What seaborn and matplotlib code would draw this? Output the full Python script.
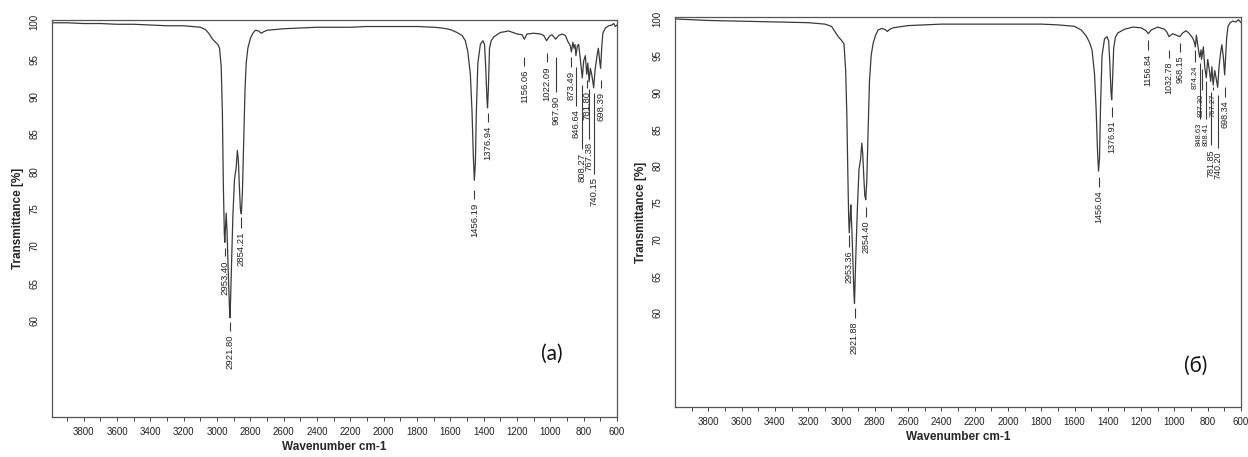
import matplotlib
matplotlib.use("Agg")
import matplotlib.pyplot as plt
import numpy as np
import pandas as pd
import seaborn as sns

# ---------------- data ----------------
# Spectrum (a)
wn_a = [3990, 3900, 3800, 3700, 3600, 3500, 3400, 3300, 3200, 3150, 3100, 3070, 3050, 3030,
        3010, 2995, 2985, 2975, 2968, 2962, 2956, 2953.4, 2949, 2945, 2940, 2932, 2925,
        2921.8, 2915, 2905, 2895, 2885, 2878, 2872, 2866, 2860, 2854.2, 2848, 2840, 2832,
        2825, 2815, 2800, 2785, 2770, 2750, 2735, 2720, 2700, 2650, 2600, 2500, 2400, 2300,
        2200, 2100, 2000, 1900, 1800, 1700, 1650, 1600, 1560, 1530, 1510, 1495, 1480, 1470,
        1462, 1456.2, 1450, 1444, 1435, 1420, 1405, 1395, 1388, 1380, 1376.9, 1372, 1365,
        1355, 1340, 1300, 1250, 1200, 1170, 1156, 1140, 1100, 1060, 1040, 1022, 1005, 990,
        968, 950, 930, 910, 895, 880, 873.5, 865, 858, 852, 846.6, 838, 830, 820, 808.3,
        800, 790, 781.8, 775, 767.4, 760, 752, 745, 740.2, 732, 720, 712, 705, 698.4, 692,
        685, 670, 650, 630, 620, 610, 600]
t_a = [99.9, 99.9, 99.8, 99.8, 99.7, 99.7, 99.6, 99.5, 99.5, 99.4, 99.3, 99.0, 98.5, 97.8,
       97.3, 97.0, 96.5, 94.0, 88.0, 78.0, 71.5, 70.5, 72.5, 74.4, 72.0, 66.0, 61.5,
       60.4, 66.0, 74.0, 79.0, 80.5, 82.8, 81.5, 78.0, 75.0, 74.3, 77.0, 84.0, 91.0,
       94.5, 96.5, 97.8, 98.5, 98.9, 98.8, 98.5, 98.7, 98.9, 99.0, 99.1, 99.2, 99.3, 99.3,
       99.3, 99.4, 99.4, 99.4, 99.4, 99.3, 99.2, 99.0, 98.6, 98.2, 97.5, 96.0, 93.0, 88.0,
       82.0, 78.8, 81.0, 88.0, 94.5, 97.0, 97.5, 97.0, 94.0, 89.5, 88.5, 91.0, 96.5,
       97.5, 98.0, 98.6, 98.8, 98.4, 98.3, 97.7, 98.4, 98.5, 98.4, 98.2, 97.5, 98.1, 98.3,
       97.7, 98.2, 98.4, 98.2, 97.4, 96.8, 96.0, 97.3, 96.5, 97.0, 95.5, 96.8, 97.0, 95.0, 92.5,
       94.8, 95.5, 93.0, 94.5, 92.0, 93.8, 93.0, 92.0, 91.2, 93.5, 95.5, 96.5, 95.0, 93.8, 96.5,
       98.5, 99.2, 99.5, 99.6, 99.8, 99.4, 99.6]

# Spectrum (б)
wn_b = [4000, 3900, 3800, 3600, 3400, 3200, 3100, 3060, 3040, 3020, 3000, 2985, 2975, 2968,
        2962, 2957, 2953.4, 2948, 2944, 2938, 2930, 2925, 2921.9, 2915, 2905, 2895, 2885,
        2878, 2872, 2866, 2860, 2854.4, 2848, 2840, 2832, 2822, 2810, 2795, 2780, 2760,
        2740, 2725, 2710, 2690, 2600, 2500, 2400, 2200, 2000, 1800, 1700, 1600, 1560, 1530,
        1510, 1495, 1480, 1470, 1462, 1456.0, 1450, 1444, 1435, 1420, 1405, 1395, 1388,
        1381, 1376.9, 1372, 1365, 1355, 1340, 1300, 1250, 1200, 1170, 1156.8, 1140, 1100,
        1060, 1045, 1032.8, 1010, 990, 968.2, 950, 930, 910, 890, 880, 874.2, 868, 860,
        848.6, 840, 837, 826, 818, 808.5, 800, 790, 781.9, 775, 767.2, 758, 750, 740.2,
        732, 722, 715, 706, 698.3, 692, 686, 678, 665, 650, 630, 615, 600]
t_b = [100.0, 99.9, 99.8, 99.7, 99.6, 99.5, 99.3, 99.0, 98.3, 97.6, 97.1, 96.6, 93.0, 87.0,
       79.0, 73.0, 70.9, 73.0, 74.7, 71.5, 66.0, 62.5, 61.3, 67.0, 74.0, 79.5, 81.0,
       83.1, 81.5, 78.5, 76.0, 75.4, 78.0, 85.0, 91.5, 95.0, 96.7, 97.8, 98.5, 98.7,
       98.6, 98.3, 98.6, 98.8, 99.1, 99.2, 99.3, 99.3, 99.3, 99.3, 99.2, 99.0, 98.5, 97.7,
       96.8, 95.8, 92.5, 87.5, 82.0, 79.3, 81.0, 88.0, 95.0, 97.3, 97.6, 97.0, 94.0,
       90.0, 89.0, 91.5, 96.0, 97.5, 98.1, 98.6, 98.9, 98.8, 98.4, 98.0, 98.5, 98.9,
       98.6, 98.2, 97.6, 98.0, 97.8, 97.6, 98.1, 98.4, 98.0, 97.4, 96.8, 96.2, 97.8, 96.5,
       94.8, 95.8, 94.5, 96.2, 93.5, 92.0, 94.5, 93.0, 91.5, 93.5, 91.0, 93.0, 92.0, 90.7,
       93.5, 95.5, 96.5, 94.8, 92.4, 95.0, 97.5, 99.0, 99.5, 99.7, 99.6, 99.9, 99.5]

# Peak labels (a)
peak_lbl_a = ["2953.40", "2921.80", "2854.21", "1456.19", "1376.94", "1156.06", "1022.09",
              "967.90", "873.49", "846.64", "808.27", "781.80", "767.38", "740.15", "698.39"]
peak_wn_a = [2953.40, 2921.80, 2854.21, 1456.19, 1376.94, 1156.06, 1022.09,
             967.90, 873.49, 846.64, 808.27, 781.80, 767.38, 740.15, 698.39]
line_top_a = [69.8, 59.8, 73.9, 77.5, 87.8, 95.3, 95.8, 95.3, 95.3, 94.0, 91.5, 92.2, 91.0, 90.5, 92.3]
line_bot_a = [68.6, 58.6, 72.4, 76.3, 86.6, 94.1, 94.6, 90.6, 94.0, 88.8, 83.0, 91.2, 84.4, 79.7, 91.2]

# Peak labels (б)
peak_lbl_b = ["2953.36", "2921.88", "2854.40", "1456.04", "1376.91", "1156.84", "1032.78",
              "968.15", "874.24", "837.30", "848.63", "808.41", "767.27", "781.85", "740.20", "698.34"]
peak_wn_b = [2953.36, 2921.88, 2854.40, 1456.04, 1376.91, 1156.84, 1032.78,
             968.15, 874.24, 837.30, 848.63, 808.41, 767.27, 781.85, 740.20, 698.34]
line_top_b = [70.6, 60.7, 74.4, 78.5, 88.0, 97.1, 95.8, 96.8, 95.8, 93.2, 94.0, 91.5, 90.8, 90.0, 89.7, 90.7]
line_bot_b = [69.0, 59.3, 73.1, 77.2, 86.7, 95.8, 94.7, 95.5, 94.2, 90.3, 86.4, 86.4, 90.3, 82.8, 82.4, 89.4]

x_ticks = [3800, 3600, 3400, 3200, 3000, 2800, 2600, 2400, 2200, 2000, 1800, 1600, 1400, 1200, 1000, 800, 600]
y_ticks = [60, 65, 70, 75, 80, 85, 90, 95, 100]
panel_tags = ["(a)", "(б)"]

# ---------------- drawing ----------------
sns.set_theme(style="white")
plt.rcParams['font.family'] = ['Liberation Sans', 'DejaVu Sans']

fig = plt.figure(figsize=(12.48, 4.57), dpi=100)
ax_a = fig.add_axes([0.0417, 0.0875, 0.4527, 0.8687])
ax_b = fig.add_axes([0.5409, 0.1094, 0.4535, 0.8534])

line_col = "#3a3a3a"
crowded = {"874.24", "837.30", "848.63", "808.41", "767.27"}   # drawn smaller, as in the picture
panels = [
    (ax_a, wn_a, t_a, peak_lbl_a, peak_wn_a, line_top_a, line_bot_a, (3990, 600), (47.1, 100.27), (0.885, 0.16), 6.8),
    (ax_b, wn_b, t_b, peak_lbl_b, peak_wn_b, line_top_b, line_bot_b, (4000, 600), (47.2, 100.27), (0.92, 0.105), 6.5),
]

for i, (ax, wn, tt, lbls, pwn, ltop, lbot, xl, yl, tagpos, lfs) in enumerate(panels):
    df = pd.DataFrame({"Wavenumber": wn, "T": tt})
    sns.lineplot(data=df, x="Wavenumber", y="T", ax=ax, color=line_col,
                 linewidth=0.9, estimator=None, sort=False)
    ax.set_xlim(*xl)
    ax.set_ylim(*yl)
    ax.set_xticks(x_ticks)
    ax.set_xticks(list(range(3900, 600, -200)), minor=True)
    ax.set_yticks(y_ticks)
    ax.set_yticklabels([str(v) for v in y_ticks], rotation=90, va="center")
    ax.tick_params(axis="x", which="both", direction="out", length=3, width=0.7,
                   colors="#444444", labelsize=7, pad=4, bottom=True)
    ax.tick_params(axis="x", labelcolor="#222222")
    ax.tick_params(axis="y", length=0, labelsize=7, pad=9, labelcolor="#222222")
    for sp in ax.spines.values():
        sp.set_color("#555555")
        sp.set_linewidth(0.9)
    ax.set_xlabel("Wavenumber cm-1", fontsize=8.5, fontweight="bold", labelpad=3)
    ax.set_ylabel("Transmittance [%]", fontsize=8.5, fontweight="bold", labelpad=4)

    ax.vlines(pwn, lbot, ltop, color=line_col, linewidth=0.8)
    for lab, x, yb in zip(lbls, pwn, lbot):
        fs = 5.5 if (i == 1 and lab in crowded) else lfs
        ax.text(x, yb - 0.5, lab, rotation=90, ha="center", va="top",
                fontsize=fs, color="#222222")

    ax.text(tagpos[0], tagpos[1], panel_tags[i], transform=ax.transAxes,
            fontsize=15, family=["Lato", "DejaVu Sans"], ha="center", va="center",
            color="#111111")

fig.savefig("out.png", dpi=100)
